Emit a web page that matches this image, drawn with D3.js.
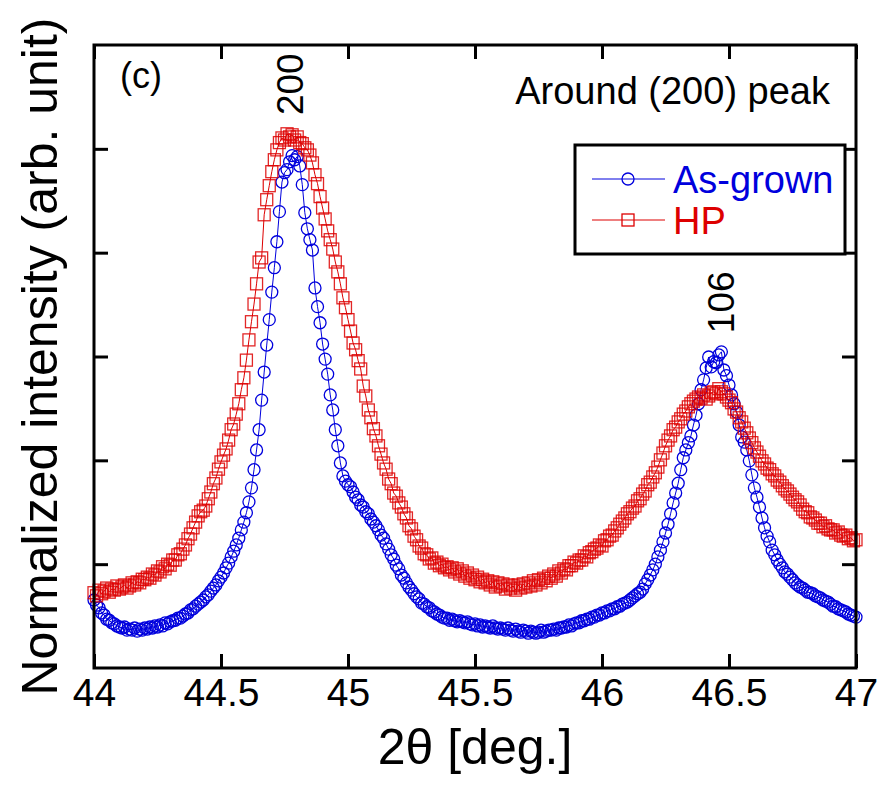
<!DOCTYPE html>
<html>
<head>
<meta charset="utf-8">
<script src="https://cdn.jsdelivr.net/npm/d3@7"></script>
<style>
  body { margin: 0; background: #fff; }
  svg { display: block; }
</style>
</head>
<body>
<svg id="chart"></svg>
<script>
// scan: 44.00 .. 47.00 deg, 0.01 deg step
const scanStart = 44.0;
const scanStep = 0.01;

const asGrown = [
  0.131,0.121,0.116,0.106,0.102,0.094,0.092,0.087,0.085,0.081,
  0.079,0.077,0.079,0.073,0.075,0.073,0.077,0.071,0.075,0.073,
  0.077,0.075,0.079,0.077,0.081,0.079,0.083,0.081,0.087,0.085,
  0.089,0.091,0.092,0.096,0.096,0.100,0.104,0.106,0.112,0.114,
  0.119,0.123,0.127,0.131,0.137,0.141,0.148,0.154,0.160,0.168,
  0.175,0.183,0.193,0.202,0.214,0.225,0.237,0.250,0.266,0.281,
  0.299,0.320,0.347,0.382,0.420,0.459,0.516,0.570,0.622,0.671,
  0.724,0.771,0.821,0.879,0.936,0.954,0.960,0.975,0.987,0.979,
  0.985,0.967,0.931,0.877,0.846,0.825,0.805,0.732,0.696,0.665,
  0.624,0.595,0.566,0.526,0.497,0.459,0.428,0.395,0.370,0.360,
  0.353,0.349,0.339,0.329,0.324,0.314,0.310,0.301,0.297,0.287,
  0.281,0.274,0.266,0.256,0.250,0.239,0.229,0.218,0.210,0.198,
  0.191,0.179,0.173,0.164,0.156,0.150,0.143,0.137,0.133,0.125,
  0.123,0.118,0.116,0.110,0.108,0.104,0.102,0.098,0.096,0.096,
  0.092,0.094,0.091,0.089,0.091,0.089,0.087,0.089,0.085,0.083,
  0.085,0.081,0.083,0.079,0.081,0.079,0.077,0.081,0.077,0.075,
  0.077,0.075,0.073,0.077,0.073,0.071,0.075,0.071,0.069,0.073,
  0.071,0.067,0.071,0.069,0.067,0.069,0.073,0.069,0.071,0.073,
  0.073,0.075,0.073,0.077,0.077,0.079,0.079,0.083,0.081,0.085,
  0.087,0.087,0.091,0.091,0.094,0.094,0.098,0.098,0.102,0.102,
  0.106,0.106,0.110,0.110,0.114,0.114,0.118,0.119,0.123,0.125,
  0.127,0.131,0.135,0.139,0.143,0.146,0.152,0.162,0.170,0.179,
  0.189,0.200,0.214,0.227,0.243,0.260,0.277,0.297,0.318,0.337,
  0.356,0.382,0.405,0.420,0.434,0.447,0.468,0.487,0.509,0.536,
  0.555,0.578,0.599,0.580,0.590,0.588,0.603,0.609,0.574,0.563,
  0.545,0.526,0.509,0.493,0.468,0.445,0.435,0.420,0.399,0.372,
  0.347,0.329,0.310,0.289,0.270,0.254,0.243,0.227,0.218,0.208,
  0.200,0.193,0.185,0.181,0.175,0.170,0.164,0.160,0.156,0.154,
  0.150,0.146,0.145,0.143,0.139,0.137,0.135,0.131,0.129,0.127,
  0.123,0.119,0.118,0.114,0.112,0.110,0.108,0.104,0.102,0.100,
  0.098
];

const hp = [
  0.145,0.139,0.150,0.143,0.148,0.154,0.146,0.152,0.150,0.158,
  0.152,0.156,0.160,0.154,0.158,0.164,0.160,0.166,0.164,0.171,
  0.170,0.175,0.173,0.181,0.179,0.187,0.185,0.195,0.191,0.200,
  0.198,0.208,0.208,0.218,0.220,0.229,0.237,0.249,0.258,0.270,
  0.281,0.293,0.301,0.304,0.312,0.326,0.339,0.355,0.366,0.383,
  0.397,0.410,0.422,0.439,0.459,0.470,0.489,0.509,0.536,0.559,
  0.593,0.632,0.667,0.701,0.740,0.782,0.790,0.873,0.902,0.929,
  0.956,0.979,0.998,1.012,1.021,1.017,1.029,1.023,1.027,1.017,
  1.023,1.012,1.010,1.002,0.998,0.988,0.973,0.950,0.933,0.908,
  0.886,0.865,0.842,0.825,0.807,0.782,0.763,0.740,0.713,0.694,
  0.671,0.649,0.626,0.613,0.592,0.576,0.543,0.524,0.497,0.482,
  0.461,0.447,0.428,0.412,0.395,0.383,0.364,0.355,0.337,0.331,
  0.318,0.310,0.297,0.289,0.274,0.268,0.254,0.247,0.235,0.231,
  0.220,0.218,0.210,0.212,0.202,0.204,0.197,0.200,0.193,0.195,
  0.189,0.193,0.185,0.191,0.181,0.187,0.177,0.183,0.173,0.179,
  0.170,0.175,0.166,0.171,0.164,0.168,0.160,0.166,0.156,0.164,
  0.158,0.162,0.152,0.160,0.154,0.158,0.150,0.160,0.154,0.162,
  0.156,0.164,0.158,0.168,0.160,0.170,0.164,0.173,0.168,0.177,
  0.173,0.181,0.177,0.187,0.183,0.191,0.189,0.197,0.197,0.204,
  0.202,0.208,0.208,0.216,0.214,0.222,0.224,0.229,0.231,0.237,
  0.235,0.245,0.247,0.254,0.256,0.264,0.270,0.277,0.283,0.289,
  0.297,0.301,0.308,0.312,0.322,0.326,0.335,0.341,0.353,0.358,
  0.368,0.376,0.387,0.401,0.414,0.428,0.439,0.447,0.459,0.464,
  0.474,0.480,0.489,0.495,0.503,0.509,0.514,0.518,0.522,0.520,
  0.526,0.518,0.524,0.530,0.532,0.528,0.538,0.532,0.528,0.522,
  0.516,0.511,0.499,0.493,0.482,0.474,0.462,0.453,0.443,0.434,
  0.424,0.416,0.408,0.399,0.393,0.385,0.382,0.374,0.370,0.362,
  0.358,0.351,0.345,0.341,0.335,0.329,0.324,0.320,0.314,0.306,
  0.301,0.299,0.291,0.289,0.285,0.279,0.279,0.272,0.274,0.268,
  0.266,0.266,0.260,0.262,0.256,0.254,0.256,0.249,0.251,0.245,
  0.247
];

const xTicks = [44, 44.5, 45, 45.5, 46, 46.5, 47];
const yTicks = [0.2, 0.4, 0.6, 0.8, 1.0];
const peakLabels = [
  {text: "200", x: 44.77, y: 1.065},
  {text: "106", x: 46.47, y: 0.645}
];
const seriesNames = ["As-grown", "HP"];

//------------------------------

const W = 881, H = 785;
const margin = {top: 45, left: 94, right: 25, bottom: 117};
const font = "'Liberation Sans', Arial, Helvetica, sans-serif";
const blue = "#0000dd";
const red = "#dd0000";

const svg = d3.select("#chart").attr("width", W).attr("height", H);

const x = d3.scaleLinear().domain([44, 47]).range([margin.left, W - margin.right]);
const y = d3.scaleLinear().domain([0, 1.2]).range([H - margin.bottom, margin.top]);

const toPoints = (vals) => vals.map((v, i) => ({t: scanStart + i * scanStep, v: v}));
const blueData = toPoints(asGrown);
const redData = toPoints(hp);

const line = d3.line().x(d => x(d.t)).y(d => y(d.v));

// axes (ticks inward, labels only at bottom)
function styleAxis(g){
  g.select(".domain").remove();
  g.selectAll(".tick line").attr("stroke", "black").attr("stroke-width", 3);
  g.selectAll(".tick text")
    .attr("font-family", font)
    .attr("font-size", 39)
    .attr("fill", "black");
}

svg.append("g")
  .attr("transform", `translate(0,${y(0)})`)
  .call(d3.axisBottom(x).tickValues(xTicks).tickSizeInner(-14).tickSizeOuter(0).tickPadding(10)
    .tickFormat(d3.format("")))
  .call(styleAxis);
svg.append("g")
  .attr("transform", `translate(0,${y(1.2)})`)
  .call(d3.axisTop(x).tickValues(xTicks).tickSizeInner(-14).tickSizeOuter(0).tickFormat(""))
  .call(styleAxis);
svg.append("g")
  .attr("transform", `translate(${x(44)},0)`)
  .call(d3.axisLeft(y).tickValues(yTicks).tickSizeInner(-14).tickSizeOuter(0).tickFormat(""))
  .call(styleAxis);
svg.append("g")
  .attr("transform", `translate(${x(47)},0)`)
  .call(d3.axisRight(y).tickValues(yTicks).tickSizeInner(-14).tickSizeOuter(0).tickFormat(""))
  .call(styleAxis);

// data
const plot = svg.append("g");

plot.append("path")
  .datum(blueData)
  .attr("d", line)
  .attr("fill", "none")
  .attr("stroke", blue)
  .attr("stroke-width", 1);
plot.append("g").selectAll("circle")
  .data(blueData)
  .enter()
  .append("circle")
  .attr("cx", d => x(d.t))
  .attr("cy", d => y(d.v))
  .attr("r", 6)
  .attr("fill", "none")
  .attr("stroke", blue)
  .attr("stroke-width", 1.3);

plot.append("path")
  .datum(redData)
  .attr("d", line)
  .attr("fill", "none")
  .attr("stroke", red)
  .attr("stroke-width", 1);
plot.append("g").selectAll("rect")
  .data(redData)
  .enter()
  .append("rect")
  .attr("x", d => x(d.t) - 6)
  .attr("y", d => y(d.v) - 6)
  .attr("width", 12)
  .attr("height", 12)
  .attr("fill", "none")
  .attr("stroke", red)
  .attr("stroke-opacity", 0.85)
  .attr("stroke-width", 1.3);

// frame
svg.append("rect")
  .attr("x", x(44))
  .attr("y", y(1.2))
  .attr("width", x(47) - x(44))
  .attr("height", y(0) - y(1.2))
  .attr("fill", "none")
  .attr("stroke", "black")
  .attr("stroke-width", 3);

// axis titles
svg.append("text")
  .attr("x", (x(44) + x(47)) / 2)
  .attr("y", 764)
  .attr("text-anchor", "middle")
  .attr("font-family", font)
  .attr("font-size", 50)
  .text("2θ [deg.]");
svg.append("text")
  .attr("transform", `translate(57,${(y(0) + y(1.2)) / 2}) rotate(-90)`)
  .attr("text-anchor", "middle")
  .attr("font-family", font)
  .attr("font-size", 50)
  .text("Normalized intensity (arb. unit)");

// annotations
svg.append("text")
  .attr("x", 120)
  .attr("y", 88)
  .attr("font-family", font)
  .attr("font-size", 36)
  .text("(c)");
svg.append("text")
  .attr("x", 830)
  .attr("y", 104)
  .attr("text-anchor", "end")
  .attr("font-family", font)
  .attr("font-size", 38)
  .text("Around (200) peak");

svg.append("g").selectAll("text")
  .data(peakLabels)
  .enter()
  .append("text")
  .attr("transform", d => `translate(${x(d.x) + 13},${y(d.y)}) rotate(-90)`)
  .attr("font-family", font)
  .attr("font-size", 37)
  .text(d => d.text);

// legend
const legend = svg.append("g");
legend.append("rect")
  .attr("x", 575)
  .attr("y", 145)
  .attr("width", 270)
  .attr("height", 109)
  .attr("fill", "white")
  .attr("stroke", "black")
  .attr("stroke-width", 3);

seriesNames.forEach((name, i) => {
  const ly = 179 + i * 41;
  const col = i === 0 ? blue : red;
  legend.append("line")
    .attr("x1", 592).attr("x2", 665)
    .attr("y1", ly).attr("y2", ly)
    .attr("stroke", col)
    .attr("stroke-width", 1);
  if (i === 0) {
    legend.append("circle")
      .attr("cx", 628).attr("cy", ly).attr("r", 6)
      .attr("fill", "none").attr("stroke", col).attr("stroke-width", 1.3);
  } else {
    legend.append("rect")
      .attr("x", 622).attr("y", ly - 6).attr("width", 12).attr("height", 12)
      .attr("fill", "none").attr("stroke", col).attr("stroke-width", 1.3);
  }
  legend.append("text")
    .attr("x", 673)
    .attr("y", ly + 14)
    .attr("font-family", font)
    .attr("font-size", 38)
    .attr("fill", col)
    .text(name);
});
</script>
</body>
</html>
